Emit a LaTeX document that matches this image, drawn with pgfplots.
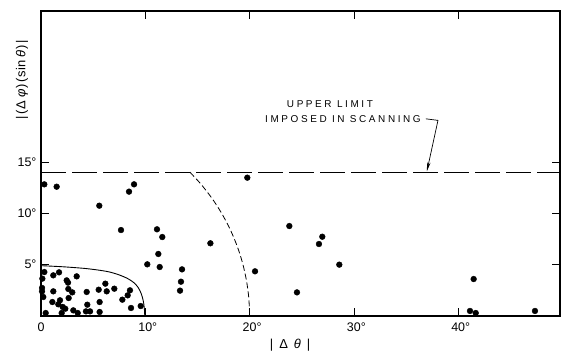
\documentclass[border=0pt]{standalone}
\usepackage{fontspec}
\setmainfont{Liberation Sans}
\usepackage{pgfplots}
\pgfplotsset{compat=1.18}
\usetikzlibrary{arrows.meta}
\begin{document}
\begin{tikzpicture}
\begin{axis}[
  scale only axis, width=519bp, height=305bp,
  xmin=0, xmax=49.76, ymin=0, ymax=29.7,
  axis line style={line width=1.1pt},
  xtick={0,10,20,30,40},
  xticklabels={0,10\rlap{°},20\rlap{°},30\rlap{°},40\rlap{°}},
  ytick={5,10,15},
  yticklabels={5°,10°,15°},
  tick style={black, line width=0.8pt},
  major tick length=8bp,
  tick label style={font=\fontsize{12.5}{13}\selectfont},
  x tick label style={yshift=-3bp},
  y tick label style={xshift=-1bp},
  xlabel={|\hspace{6bp}Δ\hspace{6bp}\textit{θ}\hspace{6bp}|},
  ylabel={|\hspace{1.5bp}(\hspace{1bp}Δ\hspace{3bp}\textit{φ}\hspace{1bp})\hspace{1.5bp}(\hspace{1bp}sin\hspace{3bp}\textit{θ}\hspace{1bp})\hspace{1.5bp}|},
  xlabel style={at={(axis description cs:0.48,-0.095)}, anchor=center, font=\fontsize{13}{13}\selectfont},
  ylabel style={at={(axis description cs:-0.0366,0.774)}, anchor=center, font=\fontsize{13}{13}\selectfont},
  clip=false,
]
% upper limit
\addplot[black, line width=0.9pt, dash pattern=on 25bp off 6bp] coordinates {(0,14) (49.76,14)};
% solid boundary
\addplot[black, line width=0.9pt, smooth] coordinates {
(0,4.9) (2,4.8) (4,4.65) (5.3,4.5) (6.5,4.3) (7.5,4.0) (8.3,3.65) (8.9,3.25) (9.3,2.8) (9.6,2.2) (9.8,1.5) (9.9,0.8) (9.95,0)};
% dashed arc
\addplot[black, line width=0.8pt, dash pattern=on 6bp off 3bp, smooth] coordinates {
(14.283,14.0) (15.321,12.856) (16.383,11.472) (17.321,10.0) (18.126,8.452) (18.794,6.840) (19.319,5.176) (19.696,3.473) (19.924,1.743) (20,0)};
% data points
\addplot[only marks, mark=*, mark size=2.9bp, black] coordinates {
(0.32,12.82) (1.50,12.59) (5.59,10.74) (7.67,8.37) (8.44,12.11) (8.92,12.82)
(10.19,5.03) (11.12,8.44) (11.63,7.69) (11.25,6.04) (11.38,4.77)
(13.52,4.54) (13.42,3.34) (13.33,2.47) (16.24,7.08) (19.78,13.47) (20.52,4.35)
(23.81,8.76) (24.54,2.30) (26.65,7.01) (26.97,7.72) (28.6,5.0)
(41.48,3.60) (41.13,0.49) (41.68,0.29) (47.36,0.49)
(0.32,4.28) (0.13,3.64) (0.10,2.73) (0.10,2.40) (0.22,1.85) (0.45,0.29)
(1.18,3.96) (1.18,2.40) (1.09,1.36) (1.73,4.25) (1.66,1.14) (1.82,1.53)
(1.98,0.29) (2.08,0.88) (2.33,0.71) (2.46,3.47) (2.59,3.25) (2.62,2.63)
(2.65,1.75) (3.00,2.30) (3.10,0.55) (3.42,3.86) (3.52,0.29) (4.38,2.34)
(4.44,1.10) (4.31,0.45) (4.70,0.45) (5.53,2.56) (5.62,1.36) (5.62,0.39)
(6.17,3.15) (6.30,2.40) (7.03,2.66) (7.80,1.59) (8.31,2.01) (8.53,2.50)
(8.63,0.78) (9.56,0.97)};
\node[font=\fontsize{10}{10}\selectfont\addfontfeature{LetterSpace=26}] at (axis cs:27.7,20.6) {UPPER LIMIT};
\node[font=\fontsize{10}{10}\selectfont\addfontfeature{LetterSpace=26}] at (axis cs:28.95,19.15) {IMPOSED IN SCANNING};
\draw[black, line width=0.7pt, -{Stealth[length=9bp,width=3.5bp]}] (axis cs:36.9,19.2) -- (axis cs:38.06,19.05) -- (axis cs:37.0,14.1);
\end{axis}
\pgfresetboundingbox
\path ([shift={(-41bp,-35bp)}]current axis.south west) rectangle ([shift={(1bp,11bp)}]current axis.north east);
\end{tikzpicture}
\end{document}
